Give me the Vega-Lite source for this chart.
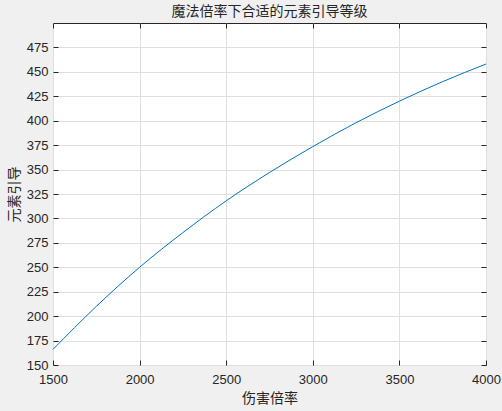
{
  "$schema": "https://vega.github.io/schema/vega-lite/v6.json",
  "description": "魔法倍率下合适的元素引导等级",
  "autosize": {"type": "none"},
  "padding": {"left": 53, "top": 23, "right": 16, "bottom": 46},
  "width": 433,
  "height": 342,
  "background": "#f0f0f0",
  "title": {
    "text": "魔法倍率下合适的元素引导等级",
    "font": "Noto Sans CJK SC",
    "fontSize": 14,
    "fontWeight": "normal",
    "color": "#262626",
    "offset": 4
  },
  "config": {
    "view": {"fill": "white", "stroke": "#262626", "strokeWidth": 1},
    "axis": {
      "labelFont": "Liberation Sans",
      "labelFontSize": 13,
      "labelColor": "#262626",
      "titleFont": "Noto Sans CJK SC",
      "titleFontSize": 14,
      "titleFontWeight": "normal",
      "titleColor": "#262626",
      "domain": false,
      "tickColor": "#262626",
      "tickSize": -5,
      "gridColor": "#dfdfdf",
      "gridWidth": 1,
      "format": "d"
    }
  },
  "data": {
    "values": [
      {"damage": 1500, "guide": 166},
      {"damage": 1750, "guide": 210},
      {"damage": 2000, "guide": 250},
      {"damage": 2250, "guide": 285.5},
      {"damage": 2500, "guide": 318},
      {"damage": 2750, "guide": 347},
      {"damage": 3000, "guide": 373.5},
      {"damage": 3250, "guide": 398},
      {"damage": 3500, "guide": 420},
      {"damage": 3750, "guide": 440},
      {"damage": 4000, "guide": 458}
    ]
  },
  "resolve": {"axis": {"x": "independent", "y": "independent"}},
  "layer": [
    {
      "mark": {"type": "line", "color": "#0072BD", "strokeWidth": 1, "interpolate": "monotone"},
      "encoding": {
        "x": {
          "field": "damage",
          "type": "quantitative",
          "title": "伤害倍率",
          "scale": {"domain": [1500, 4000], "nice": false, "zero": false},
          "axis": {"values": [1500, 2000, 2500, 3000, 3500, 4000], "format": "d", "labelPadding": 13, "titlePadding": 5, "labelFlush": false}
        },
        "y": {
          "field": "guide",
          "type": "quantitative",
          "title": "元素引导",
          "scale": {"domain": [150, 500], "nice": false, "zero": false},
          "axis": {"values": [150, 175, 200, 225, 250, 275, 300, 325, 350, 375, 400, 425, 450, 475], "format": "d", "labelPadding": 10, "titlePadding": 5}
        }
      }
    },
    {
      "mark": {"type": "line", "strokeOpacity": 0},
      "encoding": {
        "x": {
          "field": "damage",
          "type": "quantitative",
          "scale": {"domain": [1500, 4000], "nice": false, "zero": false},
          "axis": {"orient": "top", "values": [1500, 2000, 2500, 3000, 3500, 4000], "labels": false, "grid": false, "title": null}
        },
        "y": {
          "field": "guide",
          "type": "quantitative",
          "scale": {"domain": [150, 500], "nice": false, "zero": false},
          "axis": {"orient": "right", "values": [150, 175, 200, 225, 250, 275, 300, 325, 350, 375, 400, 425, 450, 475], "labels": false, "grid": false, "title": null}
        }
      }
    }
  ]
}
